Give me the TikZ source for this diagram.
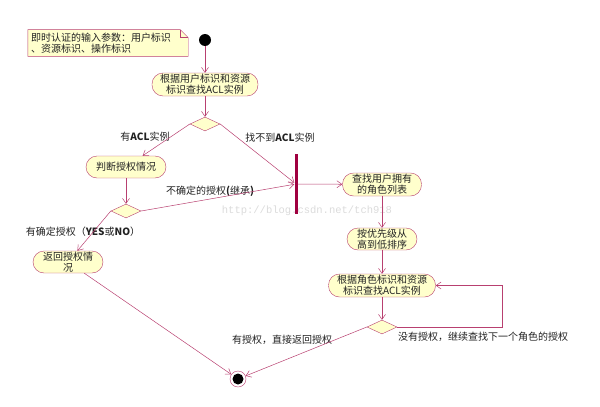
\documentclass[tikz,border=0pt]{standalone}
\usepackage{fontspec}
\newfontfamily\cjk{Noto Sans CJK SC}
\newfontfamily\wmfont{Liberation Mono}
\usetikzlibrary{shapes.geometric,arrows.meta,backgrounds}
\definecolor{umlline}{RGB}{184,64,112}
\definecolor{umlfill}{RGB}{255,255,204}
\definecolor{umlbar}{RGB}{160,0,64}
\definecolor{umltext}{RGB}{34,34,34}
\begin{document}
\begin{tikzpicture}
      [
      x=1pt,y=-1pt,
      font=\cjk\fontsize{10}{11}\selectfont,
      action/.style={rectangle,rounded corners=11pt,draw=umlline,fill=umlfill,inner sep=0pt,align=center,text=umltext},
      choice/.style={diamond,draw=umlline,fill=umlfill,inner sep=0pt,minimum width=30pt,minimum height=14pt},
      syncbar/.style={rectangle,fill=umlbar,inner sep=0pt,minimum width=3pt,minimum height=60pt},
      startdot/.style={circle,fill=black,inner sep=0pt,minimum size=12pt},
      enddot/.style={circle,draw=umlline,fill=white,inner sep=0pt,minimum size=16pt},
      guard/.style={inner sep=0pt,text=umltext},
      comment/.style={inner sep=3pt,text width=154pt,minimum height=26pt,align=left,text=umltext},
      flow/.style={draw=umlline,line width=0.5pt,-{Straight Barb[length=5pt,width=7pt]}},
      watermark/.style={inner sep=0pt,text=black!14,font=\wmfont\fontsize{10.5}{11}\selectfont}
      ]
      \useasboundingbox (0,0) rectangle (600,407);
      % note
      \node (note) at (108,43) [comment] {即时认证的输入参数：用户标识\\、资源标识、操作标识};
      \begin{scope}[on background layer]
        \node (mark) at (307,211) [watermark] {http://blog.csdn.net/tch918};
        \draw [draw=umlline,fill=umlfill] (note.north west) -- ([xshift=-8pt]note.north east) -- ([yshift=-8pt]note.north east) -- (note.south east) -- (note.south west) -- cycle;
        \draw [draw=umlline] ([xshift=-8pt]note.north east) -- ([xshift=-8pt,yshift=-8pt]note.north east) -- ([yshift=-8pt]note.north east);
      \end{scope}
      % nodes
      \node (start) at (205,40) [startdot] {};
      \node (find) at (205,84.5) [action,minimum width=106pt,minimum height=23pt] {根据用户标识和资源\\标识查找ACL实例};
      \node (d1) at (205,124) [choice] {};
      \node (judge) at (126,167) [action,minimum width=80pt,minimum height=22pt] {判断授权情况};
      \node (d2) at (126,211) [choice] {};
      \node (ret) at (68,262) [action,minimum width=70pt,minimum height=22pt] {返回授权情\\况};
      \node (bar) at (296,184) [syncbar] {};
      \node (roles) at (382,184.5) [action,minimum width=79pt,minimum height=23pt] {查找用户拥有\\的角色列表};
      \node (sort) at (382,239) [action,minimum width=70pt,minimum height=22pt] {按优先级从\\高到低排序};
      \node (findrole) at (382,285.5) [action,minimum width=107pt,minimum height=23pt] {根据角色标识和资源\\标识查找ACL实例};
      \node (d3) at (382,327) [choice] {};
      \node (end) at (238,379) [enddot] {};
      \fill (end) circle (5.5pt);
      \coordinate (loop) at (502,327);
      % guards
      \node (g1) at (145,137) [guard] {有\textbf{ACL}实例};
      \node (g2) at (280,138) [guard] {找不到\textbf{ACL}实例};
      \node (g3) at (210,191) [guard] {不确定的授权\textbf{(}继承\textbf{)}};
      \node (g4) at (83,232) [guard] {有确定授权（\textbf{YES}或\textbf{NO}）};
      \node (g5) at (282,340) [guard] {有授权，直接返回授权};
      \node (g6) at (483,337) [guard] {没有授权，继续查找下一个角色的授权};
      % flows
      \draw [flow] (start) to (find);
      \draw [flow] (find) to (d1);
      \draw [flow] (d1.west) to (judge);
      \draw [flow] (d1.east) to (bar);
      \draw [flow] (judge) to (d2);
      \draw [flow] (d2.east) to (bar);
      \draw [flow] (d2.west) to (ret);
      \draw [flow] (ret) to (end);
      \draw [flow] (bar) to (roles);
      \draw [flow] (roles) to (sort);
      \draw [flow] (sort) to (findrole);
      \draw [flow] (findrole) to (d3);
      \draw [flow] (d3.east) -- (loop) |- (findrole.east);
      \draw [flow] (d3.west) to (end);
    \end{tikzpicture}
\end{document}
